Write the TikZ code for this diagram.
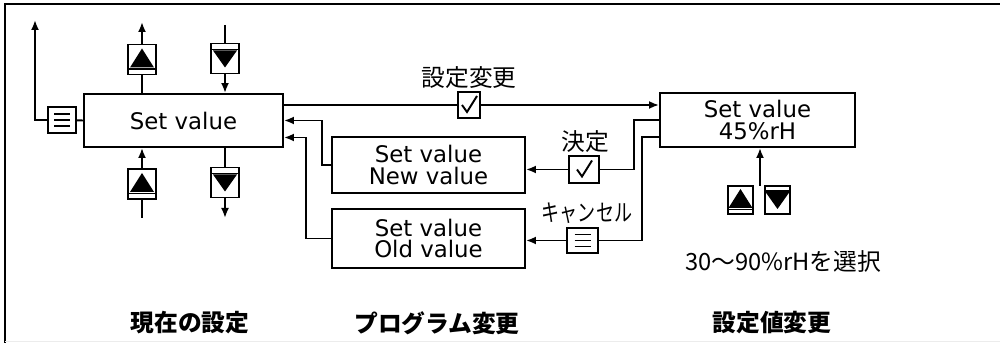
\documentclass[tikz,border=0pt]{standalone}
\usepackage{fontspec}
\setmainfont{DejaVu Sans}
\newfontfamily\jp{Noto Sans CJK JP}
\usetikzlibrary{arrows.meta}

\begin{document}
\begin{tikzpicture}[x=0.2mm, y=-0.2mm, line width=1.1pt, >={Latex[length=2mm,width=1.6mm]},
  disp/.style={draw, inner sep=0pt, align=center, font=\fontsize{13}{12.5}\selectfont},
  key/.style={draw, inner sep=0pt, minimum width=0.56cm, minimum height=0.6cm},
  upkey/.style={key, path picture={
    \fill (path picture bounding box.center) ++(0,-11) -- ++(-12,19) -- ++(24,0) -- cycle;
    \draw[line width=0.6pt] (path picture bounding box.center) ++(-14,9.5) -- ++(28,0);}},
  downkey/.style={key, path picture={
    \fill (path picture bounding box.center) ++(-12,-8) -- ++(24,0) -- ++(-12,17) -- cycle;
    \draw[line width=0.6pt] (path picture bounding box.center) ++(-14,-9) -- ++(28,0);}},
  menukey/.style={key, minimum height=0.52cm, path picture={
    \foreach \d in {-6,0,6}
      \draw[line width=1pt] (path picture bounding box.center) ++(-8,\d) -- ++(16,0);}},
  okkey/.style={key, minimum height=0.52cm, path picture={
    \draw (path picture bounding box.center) ++(-7,0) -- ++(5,7) -- ++(10,-16);}},
  lbl/.style={font=\jp\fontsize{13.5}{14}\selectfont},
  title/.style={font=\jp\bfseries\fontsize{13.5}{14}\selectfont}]

\useasboundingbox (0,0) rectangle (1000,343);
\draw[line width=1.4pt] (5,343) -- (5,4) -- (1000,4);
\draw[gray!15, line width=0.8pt] (5,341.5) -- (1000,341.5);

% displays
\node[disp, minimum width=3.98cm, minimum height=1.06cm] (cur) at (183.5,120.5) {Set value};
\node[disp, minimum width=3.86cm, minimum height=1.12cm] (new) at (428.5,165) {Set value\\New value};
\node[disp, minimum width=3.86cm, minimum height=1.18cm] (old) at (428.5,238.5) {Set value\\Old value};
\node[disp, minimum width=3.9cm, minimum height=1.08cm] (sv) at (757.5,120) {Set value\\45\%rH};

% keys
\node[menukey] (menuA) at (62,120) {};
\node[upkey] (upA) at (142,59.5) {};
\node[downkey] (dnA) at (225,58.5) {};
\node[upkey] (upB) at (142,184) {};
\node[downkey] (dnB) at (225,182.5) {};
\node[okkey, minimum width=0.44cm] (chkA) at (469,105) {};
\node[okkey, minimum width=0.6cm, minimum height=0.54cm] (chkB) at (584,169.5) {};
\node[menukey, minimum width=0.62cm, minimum height=0.5cm] (menuB) at (582.5,240.5) {};
\node[upkey, minimum width=0.5cm, minimum height=0.56cm] (upC) at (740.5,200) {};
\node[downkey, minimum width=0.5cm, minimum height=0.56cm] (dnC) at (777.5,200) {};

\coordinate (back) at (35,20);
\coordinate (upAend) at (142,22);
\coordinate (dnAend) at (225,25);
\coordinate (upBend) at (142,218);
\coordinate (dnBend) at (225,218);
\coordinate (sel) at (760,186);

% left side
\draw (cur.west) -- (menuA);
\draw[->] (menuA.west) -| (back);
\draw[->] (cur.north -| upA) -- (upA) -- (upAend);
\draw[->] (dnAend) -- (dnA) -- (cur.north -| dnA);
\draw[->] (upBend) -- (upB) -- (cur.south -| upB);
\draw[->] (cur.south -| dnB) -- (dnB) -- (dnBend);

% middle
\draw[->] (cur.east |- chkA) -- (chkA) -- (sv.west |- chkA);
\draw[->] (new.west) -- ++(-9,0) |- (cur.east);
\draw[->] (old.west) -- ++(-25,0) |- ([yshift=-0.34cm]cur.east);
\draw[->] (sv.west) -- ++(-25,0) |- (chkB) -- (new.east |- chkB);
\draw[->] ([yshift=-0.34cm]sv.west) -- ++(-17,0) |- (menuB) -- (old.east |- menuB);
\draw[->] (sel) -- (sel |- sv.south);

% labels
\node[lbl] (lchg) at (469,78) {設定変更};
\node[lbl] (lok) at (585,142) {決定};
\node[lbl] (lcan) at (587,213) {\scalebox{0.76}[1]{キャンセル}};
\node[lbl] (lrng) at (783,262) {30〜90\%rHを選択};
\node[title] (tA) at (190,323) {現在の設定};
\node[title] (tB) at (437,323) {プログラム変更};
\node[title] (tC) at (772,323) {設定値変更};

\end{tikzpicture}
\end{document}
